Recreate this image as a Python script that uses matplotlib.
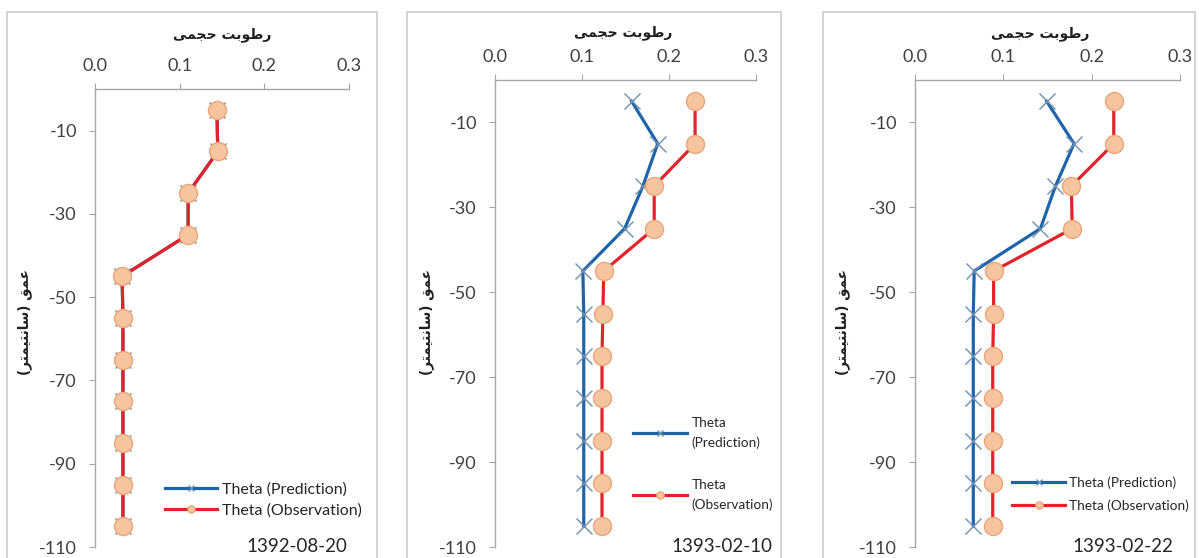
import matplotlib
matplotlib.use("Agg")
import matplotlib.pyplot as plt
from matplotlib.patches import Rectangle

W, H = 1199, 558

depths = [-5, -15, -25, -35, -45, -55, -65, -75, -85, -95, -105]

p1_pred = [0.144, 0.145, 0.110, 0.110, 0.032, 0.033, 0.033, 0.033, 0.033, 0.033, 0.033]
p1_obs = [0.144, 0.145, 0.110, 0.110, 0.032, 0.033, 0.033, 0.033, 0.033, 0.033, 0.033]
p2_pred = [0.157, 0.187, 0.170, 0.149, 0.101, 0.102, 0.102, 0.102, 0.102, 0.102, 0.102]
p2_obs = [0.230, 0.230, 0.183, 0.183, 0.125, 0.124, 0.123, 0.123, 0.123, 0.123, 0.123]
p3_pred = [0.149, 0.180, 0.159, 0.142, 0.067, 0.066, 0.066, 0.066, 0.066, 0.066, 0.066]
p3_obs = [0.225, 0.225, 0.177, 0.178, 0.089, 0.089, 0.088, 0.088, 0.088, 0.088, 0.088]

dates = ["1392-08-20", "1393-02-10", "1393-02-22"]
xticks = [0.0, 0.1, 0.2, 0.3]
yticks = [-10, -30, -50, -70, -90, -110]
pred_label = "Theta (Prediction)"
obs_label = "Theta (Observation)"

# Persian labels (presentation forms, visual order)
xlab = "\uFEF0\uFEE4\uFEA0\uFEA3 \uFE96\uFE91\uFEEE\uFEC3\uFEAD"      # رطوبت حجمی
ylab = "(\uFEAE\uFE98\uFEE4\uFEF4\uFE98\uFEE7\uFE8E\uFEB3) \uFED6\uFEE4\uFECB"  # عمق (سانتیمتر)

TICKFONT = "Lato"

fig = plt.figure(figsize=(W / 100, H / 100), dpi=100)
fig.patch.set_facecolor("white")


def fx(x):
    return x / W


def fy(y):
    return 1 - y / H


# outer chart frames
for (l, t, r, b) in [(7, 12, 377, 560), (407, 12, 781, 560), (823, 12, 1195, 560)]:
    fig.patches.append(Rectangle((fx(l), fy(b)), fx(r - l), (b - t) / H,
                                 transform=fig.transFigure, fill=False,
                                 edgecolor="#d0d0d0", linewidth=1.3, zorder=0))

panels = [
    dict(l=95, r=349, top=89, bot=547, pred=p1_pred, obs=p1_obs, date=dates[0],
         xlab=(222, 35), ylab=(25, 322), date_pos=(297, 547),
         leg=dict(x=165, y=500, fs=11.5, hl=3.25, ls=0.45, two=False)),
    dict(l=495, r=756, top=80, bot=547, pred=p2_pred, obs=p2_obs, date=dates[1],
         xlab=(623, 33), ylab=(427, 322), date_pos=(722, 547),
         leg=dict(x=633, y=464, fs=9.8, hl=4.0, ls=2.2, two=True)),
    dict(l=915, r=1180, top=80, bot=547, pred=p3_pred, obs=p3_obs, date=dates[2],
         xlab=(1040, 34), ylab=(843, 322), date_pos=(1123, 547),
         leg=dict(x=1012, y=494, fs=9.8, hl=3.9, ls=0.8, two=False)),
]

for p in panels:
    ax = fig.add_axes([fx(p["l"]), fy(p["bot"]), fx(p["r"] - p["l"]), (p["bot"] - p["top"]) / H])
    ax.set_facecolor("none")
    lp, = ax.plot(p["pred"], depths, color="#1f64a8", linewidth=2.3, marker="x",
                  markersize=11, markeredgecolor="#6f8fae", markeredgewidth=1.0,
                  zorder=2)
    lo, = ax.plot(p["obs"], depths, color="#e2232b", linewidth=2.3, marker="o",
                  markersize=13, markerfacecolor="#f7c4a0", markeredgecolor="#e9a77a",
                  markeredgewidth=1.0, zorder=3)
    ax.set_xlim(0, 0.3)
    ax.set_ylim(-110, 0)
    ax.xaxis.tick_top()
    ax.set_xticks(xticks)
    ax.set_xticklabels([f"{v:.1f}" for v in xticks])
    ax.set_yticks(yticks)
    ax.set_yticklabels([str(v) for v in yticks])
    for s in ["right", "bottom"]:
        ax.spines[s].set_visible(False)
    for s in ["left", "top"]:
        ax.spines[s].set_color("#a6a6a6")
        ax.spines[s].set_linewidth(1.0)
    ax.tick_params(axis="both", direction="out", length=4, width=0.8, color="#a6a6a6",
                   labelcolor="#404040", labelsize=13)
    ax.tick_params(axis="x", pad=7)
    ax.tick_params(axis="y", pad=9)
    for lab in ax.get_xticklabels() + ax.get_yticklabels():
        lab.set_fontfamily(TICKFONT)

    fig.text(fx(p["xlab"][0]), fy(p["xlab"][1]), xlab, ha="center", va="center",
             fontsize=10, fontweight="bold", family=["DejaVu Sans"], color="#202020")
    fig.text(fx(p["ylab"][0]), fy(p["ylab"][1]), ylab, ha="center", va="center",
             rotation=90, fontsize=9.8, fontweight="bold", family=["DejaVu Sans"],
             color="#202020")
    fig.text(fx(p["date_pos"][0]), fy(p["date_pos"][1]), p["date"], ha="center",
             va="center", fontsize=13.5, family=TICKFONT, color="#262626")

    lg = p["leg"]
    if lg["two"]:
        labels = ["Theta\n(Prediction)", "Theta\n(Observation)"]
    else:
        labels = [pred_label, obs_label]
    leg = ax.legend([lp, lo], labels, loc="center left",
                    bbox_to_anchor=(fx(lg["x"]), fy(lg["y"])),
                    bbox_transform=fig.transFigure, frameon=False,
                    handlelength=lg["hl"], handletextpad=0.3,
                    labelspacing=lg["ls"], borderpad=0, borderaxespad=0,
                    markerscale=0.4, prop={"family": TICKFONT, "size": lg["fs"]})
    for t in leg.get_texts():
        t.set_color("#262626")
        if lg["two"]:
            t.set_linespacing(1.75)

fig.savefig("out.png", dpi=100, facecolor="white")
